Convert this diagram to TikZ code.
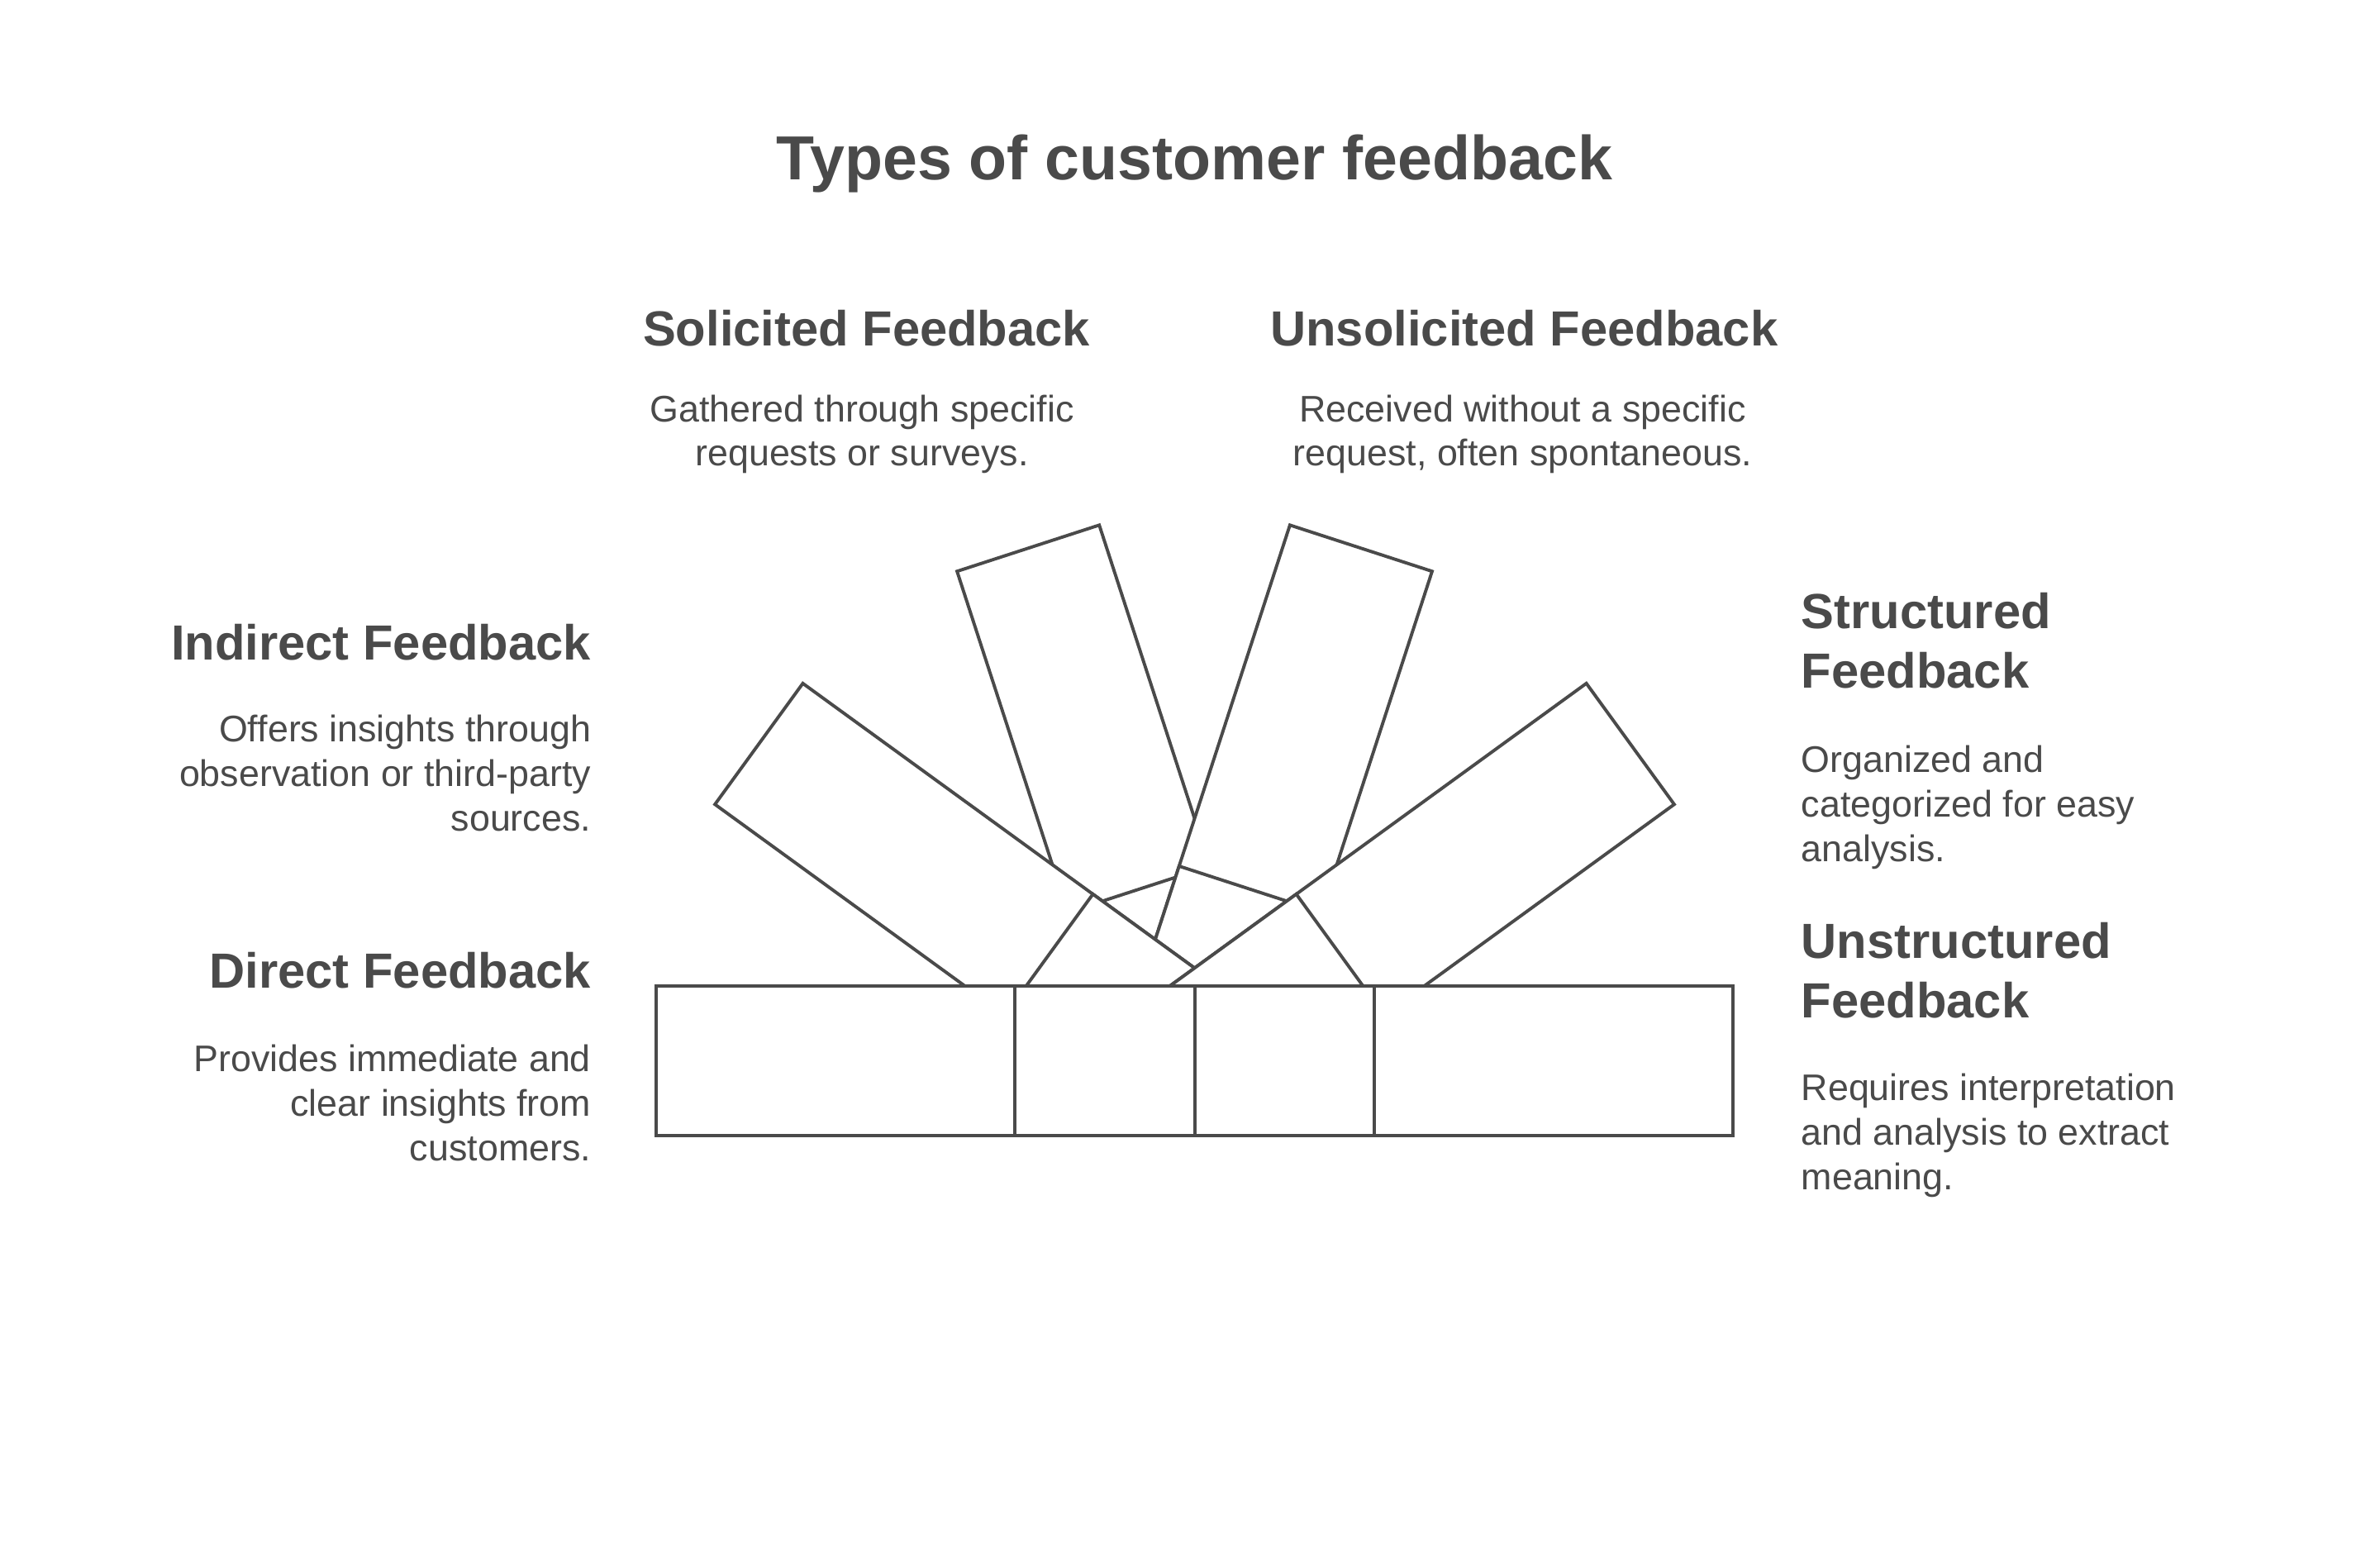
\documentclass[tikz,border=0pt]{standalone}
\usepackage{fontspec}
\setmainfont{Liberation Sans}
\usetikzlibrary{positioning}
\definecolor{ink}{HTML}{4A4A4A}
\tikzset{title/.style={font=\bfseries\fontsize{11.6}{14}\selectfont, text=ink},
  head/.style={font=\bfseries\fontsize{9.2}{11.1}\selectfont, text=ink, inner sep=0pt},
  desc/.style={font=\fontsize{6.9}{8.3}\selectfont, text=ink, inner sep=0pt},
  blade/.style={draw=ink, fill=white, line width=0.6pt, line join=miter}}
\begin{document}
\begin{tikzpicture}[x=0.01cm, y=-0.01cm]
\useasboundingbox (0,0) rectangle (1560,1014);
% fan of blades
\foreach \a in {108,72,144,36,180,0}{
  \begin{scope}[shift={(783,695)}, x=0.01cm, y=0.01cm, rotate=\a]
    \draw[blade] (0,-49) rectangle (353,49);
    \draw[blade] (0,-49) rectangle (118,49);
  \end{scope}
}
\node[title] (T) at (783,107) {Types of customer feedback};
% top labels
\node[head] (sol) at (568,215) {Solicited Feedback};
\node[desc, align=center, anchor=north] (soltxt) at (565,258) {Gathered through specific\\requests or surveys.};
\node[head] (uns) at (999,215) {Unsolicited Feedback};
\node[desc, align=center, anchor=north] (unstxt) at (998,258) {Received without a specific\\request, often spontaneous.};
% left labels
\node[head, anchor=east] (ind) at (388,421) {Indirect Feedback};
\node[desc, align=right, anchor=north east] (indtxt) at (388,468) {Offers insights through\\observation or third-party\\sources.};
\node[head, anchor=east] (dir) at (388,636) {Direct Feedback};
\node[desc, align=right, anchor=north east] (dirtxt) at (388,684) {Provides immediate and\\clear insights from\\customers.};
% right labels
\node[head, align=left, anchor=north west] (str) at (1180,388) {Structured\\Feedback};
\node[desc, align=left, anchor=north west] (strtxt) at (1180,488) {Organized and\\categorized for easy\\analysis.};
\node[head, align=left, anchor=north west] (ust) at (1180,604) {Unstructured\\Feedback};
\node[desc, align=left, anchor=north west] (usttxt) at (1180,703) {Requires interpretation\\and analysis to extract\\meaning.};
\end{tikzpicture}
\end{document}
